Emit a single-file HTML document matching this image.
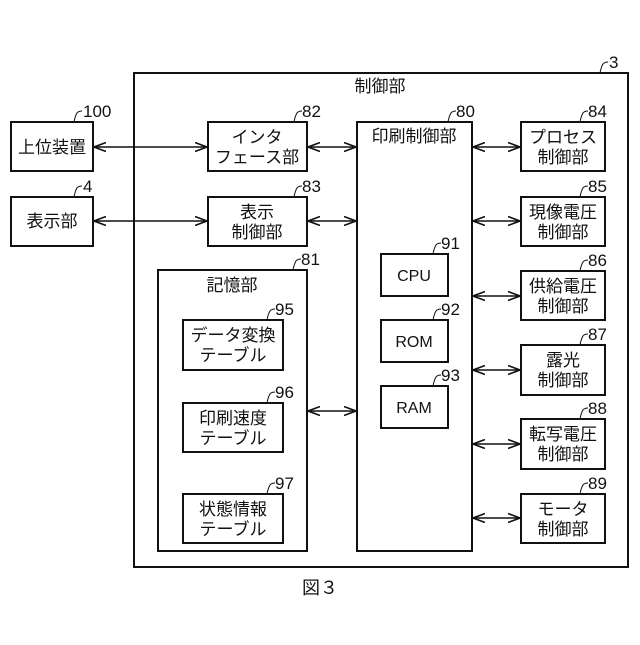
<!DOCTYPE html>
<html><head><meta charset="utf-8"><style>
body{margin:0;background:#fff}
svg text{font-family:"Liberation Sans","Noto Sans CJK JP",sans-serif;fill:#111}
.j{font-size:17px}
.n{font-size:17px;font-family:"Liberation Sans Narrow","Liberation Sans",sans-serif}
</style></head><body>
<svg width="640" height="640" viewBox="0 0 640 640" xmlns="http://www.w3.org/2000/svg">
<defs>
<marker id="a" viewBox="0 0 12 10" refX="12" refY="5" markerWidth="12" markerHeight="10" markerUnits="userSpaceOnUse" orient="auto-start-reverse">
<path d="M0,0.5 L12,5 L0,9.5" fill="none" stroke="#111" stroke-width="1.6"/>
</marker>
</defs>
<g fill="none" stroke="#111" stroke-width="2">
<rect x="134" y="73" width="494" height="494"/>
<rect x="11" y="122" width="82" height="49"/>
<rect x="11" y="197" width="82" height="49"/>
<rect x="208" y="122" width="99" height="49"/>
<rect x="208" y="197" width="99" height="49"/>
<rect x="158" y="270" width="149" height="281"/>
<rect x="183" y="320" width="100" height="50"/>
<rect x="183" y="403" width="100" height="49"/>
<rect x="183" y="494" width="100" height="49"/>
<rect x="357" y="122" width="115" height="429"/>
<rect x="381" y="254" width="67" height="42"/>
<rect x="381" y="320" width="67" height="42"/>
<rect x="381" y="386" width="67" height="42"/>
<rect x="521" y="122" width="84" height="49"/>
<rect x="521" y="197" width="84" height="49"/>
<rect x="521" y="271" width="84" height="49"/>
<rect x="521" y="345" width="84" height="50"/>
<rect x="521" y="419" width="84" height="50"/>
<rect x="521" y="494" width="84" height="49"/>
</g>
<g stroke="#111" stroke-width="1.6" marker-start="url(#a)" marker-end="url(#a)">
<line x1="94" y1="147" x2="207" y2="147"/>
<line x1="94" y1="221" x2="207" y2="221"/>
<line x1="308" y1="147" x2="356" y2="147"/>
<line x1="308" y1="221" x2="356" y2="221"/>
<line x1="308" y1="411" x2="356" y2="411"/>
<line x1="473" y1="147" x2="520" y2="147"/>
<line x1="473" y1="221" x2="520" y2="221"/>
<line x1="473" y1="296" x2="520" y2="296"/>
<line x1="473" y1="370" x2="520" y2="370"/>
<line x1="473" y1="444" x2="520" y2="444"/>
<line x1="473" y1="518" x2="520" y2="518"/>
</g>
<g fill="none" stroke="#111" stroke-width="1">
<path d="M74,122 q1,-5 2,-7 q1,-4 6,-4"/>
<path d="M74,197 q1,-5 2,-7 q1,-4 6,-4"/>
<path d="M294,122 q1,-5 2,-7 q1,-4 6,-4"/>
<path d="M294,197 q1,-5 2,-7 q1,-4 6,-4"/>
<path d="M293,270 q1,-5 2,-7 q1,-4 6,-4"/>
<path d="M267,320 q1,-5 2,-7 q1,-4 6,-4"/>
<path d="M267,403 q1,-5 2,-7 q1,-4 6,-4"/>
<path d="M267,494 q1,-5 2,-7 q1,-4 6,-4"/>
<path d="M448,122 q1,-5 2,-7 q1,-4 6,-4"/>
<path d="M433,254 q1,-5 2,-7 q1,-4 6,-4"/>
<path d="M433,320 q1,-5 2,-7 q1,-4 6,-4"/>
<path d="M433,386 q1,-5 2,-7 q1,-4 6,-4"/>
<path d="M580,122 q1,-5 2,-7 q1,-4 6,-4"/>
<path d="M580,197 q1,-5 2,-7 q1,-4 6,-4"/>
<path d="M580,271 q1,-5 2,-7 q1,-4 6,-4"/>
<path d="M580,345 q1,-5 2,-7 q1,-4 6,-4"/>
<path d="M580,419 q1,-5 2,-7 q1,-4 6,-4"/>
<path d="M580,494 q1,-5 2,-7 q1,-4 6,-4"/>
<path d="M600,73 q1,-5 2,-7 q1,-4 6,-4"/>
</g>
<g class="n">
<text x="83" y="117">100</text>
<text x="83" y="192">4</text>
<text x="302" y="117">82</text>
<text x="302" y="192">83</text>
<text x="301" y="265">81</text>
<text x="275" y="315">95</text>
<text x="275" y="398">96</text>
<text x="275" y="489">97</text>
<text x="456" y="117">80</text>
<text x="441" y="249">91</text>
<text x="441" y="315">92</text>
<text x="441" y="381">93</text>
<text x="588" y="117">84</text>
<text x="588" y="192">85</text>
<text x="588" y="266">86</text>
<text x="588" y="340">87</text>
<text x="588" y="414">88</text>
<text x="588" y="489">89</text>
<text x="609" y="68">3</text>
</g>
<g class="j" text-anchor="middle">
<text x="52" y="153">上位装置</text>
<text x="52" y="227">表示部</text>
<text x="257" y="143">インタ</text>
<text x="257" y="163">フェース部</text>
<text x="257" y="218">表示</text>
<text x="257" y="238">制御部</text>
<text x="232" y="291">記憶部</text>
<text x="233" y="341">データ変換</text>
<text x="233" y="361">テーブル</text>
<text x="233" y="424">印刷速度</text>
<text x="233" y="444">テーブル</text>
<text x="233" y="515">状態情報</text>
<text x="233" y="535">テーブル</text>
<text x="380" y="92">制御部</text>
<text x="414" y="142">印刷制御部</text>
<text x="414" y="281" font-size="16">CPU</text>
<text x="414" y="347" font-size="16">ROM</text>
<text x="414" y="413" font-size="16">RAM</text>
<text x="563" y="143">プロセス</text>
<text x="563" y="163">制御部</text>
<text x="563" y="218">現像電圧</text>
<text x="563" y="238">制御部</text>
<text x="563" y="292">供給電圧</text>
<text x="563" y="312">制御部</text>
<text x="563" y="366">露光</text>
<text x="563" y="386">制御部</text>
<text x="563" y="440">転写電圧</text>
<text x="563" y="460">制御部</text>
<text x="563" y="515">モータ</text>
<text x="563" y="535">制御部</text>
<text x="320" y="594" font-size="18">図３</text>
</g>
</svg>
</body></html>
